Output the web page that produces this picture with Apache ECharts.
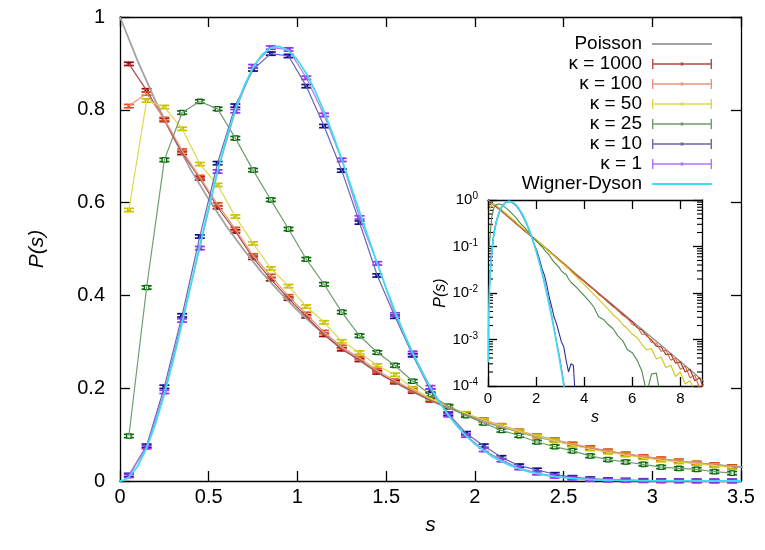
<!DOCTYPE html>
<html>
<head>
<meta charset="utf-8">
<title>Level spacing distribution P(s)</title>
<script src="https://cdn.jsdelivr.net/npm/echarts@6/dist/echarts.min.js"></script>
<style>
  html, body { margin: 0; padding: 0; background: #ffffff; }
  #chart { width: 765px; height: 550px; }
</style>
</head>
<body>
<div id="chart"></div>
<script>
// ---- data ----------------------------------------------------------------
const seriesNames = ['κ = 1000', 'κ = 100', 'κ = 50', 'κ = 25', 'κ = 10', 'κ = 1'];

// histogram bin centres
const binS = [0.05, 0.15, 0.25, 0.35, 0.45, 0.55, 0.65, 0.75, 0.85, 0.95,
              1.05, 1.15, 1.25, 1.35, 1.45, 1.55, 1.65, 1.75, 1.85, 1.95,
              2.05, 2.15, 2.25, 2.35, 2.45, 2.55, 2.65, 2.75, 2.85, 2.95,
              3.05, 3.15, 3.25, 3.35, 3.45];

const k1000 = [0.899, 0.842, 0.778, 0.707, 0.652, 0.590, 0.538, 0.481, 0.435, 0.393,
               0.355, 0.315, 0.284, 0.261, 0.234, 0.213, 0.193, 0.174, 0.159, 0.144,
               0.131, 0.119, 0.107, 0.097, 0.088, 0.079, 0.071, 0.064, 0.058, 0.052,
               0.047, 0.043, 0.038, 0.035, 0.031];
const k100  = [0.808, 0.835, 0.780, 0.712, 0.655, 0.596, 0.543, 0.486, 0.442, 0.398,
               0.360, 0.321, 0.289, 0.265, 0.238, 0.216, 0.196, 0.177, 0.161, 0.145,
               0.132, 0.120, 0.108, 0.098, 0.089, 0.080, 0.072, 0.065, 0.058, 0.053,
               0.048, 0.043, 0.039, 0.035, 0.031];
const k50   = [0.584, 0.820, 0.806, 0.759, 0.683, 0.638, 0.570, 0.512, 0.458, 0.420,
               0.376, 0.342, 0.301, 0.277, 0.249, 0.229, 0.200, 0.178, 0.160, 0.146,
               0.131, 0.119, 0.107, 0.097, 0.087, 0.077, 0.069, 0.062, 0.056, 0.050,
               0.045, 0.041, 0.037, 0.033, 0.029];
const k25   = [0.097, 0.417, 0.692, 0.794, 0.818, 0.802, 0.739, 0.670, 0.606, 0.543,
               0.478, 0.424, 0.364, 0.313, 0.277, 0.249, 0.215, 0.186, 0.161, 0.141,
               0.125, 0.109, 0.098, 0.084, 0.074, 0.065, 0.054, 0.046, 0.041, 0.036,
               0.030, 0.027, 0.025, 0.020, 0.017];
const k10   = [0.013, 0.076, 0.203, 0.357, 0.527, 0.685, 0.809, 0.887, 0.921, 0.916,
               0.851, 0.765, 0.669, 0.557, 0.443, 0.354, 0.271, 0.195, 0.145, 0.103,
               0.076, 0.051, 0.033, 0.024, 0.0145, 0.008, 0.005, 0.003, 0.0022, 0.0014,
               0.0009, 0.0007, 0.00035, 0.0002, 0.0003];
const k1    = [0.011, 0.073, 0.192, 0.346, 0.502, 0.667, 0.797, 0.894, 0.934, 0.930,
               0.869, 0.789, 0.692, 0.568, 0.469, 0.359, 0.276, 0.202, 0.142, 0.098,
               0.067, 0.045, 0.028, 0.017, 0.010, 0.006, 0.0033, 0.0017, 0.0009, 0.0005,
               0.00025, 0.00012, 0.00006, 0.00003, 0.00001];

// one-sigma half heights of the error bars
const errHalf = [0.0035, 0.0035, 0.0035, 0.0035, 0.0035, 0.0035];

// long tails, shown only in the log-scale inset
const tailS = [3.6, 3.8, 4.0, 4.2, 4.4, 4.6, 4.8, 5.0, 5.2, 5.4, 5.6, 5.8, 6.0, 6.2,
               6.4, 6.6, 6.8, 7.0, 7.2, 7.4, 7.6, 7.8, 8.0, 8.2, 8.4, 8.6, 8.8, 9.0];
const k1000Tail = [0.0262, 0.0214, 0.0177, 0.0144, 0.0119, 0.0096, 0.0079, 0.0064, 0.0053, 0.0042,
                   0.0035, 0.0028, 0.0024, 0.0018, 0.0016, 0.0012, 0.00098, 0.00072, 0.00070, 0.00047,
                   0.00049, 0.00031, 0.00033, 0.00020, 0.00023, 0.00013, 0.00015, 0.00008];
const k100Tail  = [0.0266, 0.0211, 0.0179, 0.0141, 0.0120, 0.0093, 0.0080, 0.0062, 0.0051, 0.0043,
                   0.0033, 0.0029, 0.0021, 0.0019, 0.0013, 0.0013, 0.00086, 0.00083, 0.00056, 0.00059,
                   0.00036, 0.00039, 0.00023, 0.00027, 0.00015, 0.00017, 0.00009, 0.00011];
const k50Tail   = [0.0245, 0.0192, 0.0152, 0.0119, 0.0093, 0.0074, 0.0057, 0.0045, 0.0034, 0.0028,
                   0.0021, 0.0017, 0.0013, 0.0011, 0.00078, 0.00060, 0.00064, 0.00038, 0.00042, 0.00025,
                   0.00028, 0.00016, 0.00020, 0.00011, 0.00013, 0.00008, 0.00010, 0.00006];
const k25Tail   = [0.0145, 0.0112, 0.0088, 0.0068, 0.0050, 0.0031, 0.0027, 0.0021, 0.0017, 0.0012,
                   0.00095, 0.00060, 0.00052, 0.00036, 0.00021, 0.00007, 0.00018, 0.00019, 0.00005];
const k10TailS  = [3.55, 3.65];
const k10Tail   = [0.00028, 0.00004];

// Poisson reference curve
const poissonS = [0, 0.1, 0.2, 0.3, 0.4, 0.5, 0.6, 0.7, 0.8, 0.9, 1.0, 1.1, 1.2, 1.3, 1.4, 1.5,
                  1.6, 1.7, 1.8, 1.9, 2.0, 2.1, 2.2, 2.3, 2.4, 2.5, 2.6, 2.7, 2.8, 2.9, 3.0,
                  3.1, 3.2, 3.3, 3.4, 3.5, 4.0, 4.5, 5.0, 5.5, 6.0, 6.5, 7.0, 7.5, 8.0, 8.5, 9.0];
const poissonP = [1, 0.905, 0.819, 0.741, 0.670, 0.607, 0.549, 0.497, 0.449, 0.407, 0.368,
                  0.333, 0.301, 0.273, 0.247, 0.223, 0.202, 0.183, 0.165, 0.150, 0.135,
                  0.122, 0.111, 0.100, 0.0907, 0.0821, 0.0743, 0.0672, 0.0608, 0.0550, 0.0498,
                  0.0450, 0.0408, 0.0369, 0.0334, 0.0302, 0.0183, 0.0111, 0.00674, 0.00409,
                  0.00248, 0.00150, 0.000912, 0.000553, 0.000335, 0.000203, 0.000123];

// Wigner-Dyson reference curve
const wdS = [0, 0.01, 0.02, 0.03, 0.05, 0.1, 0.15, 0.2, 0.25, 0.3, 0.35, 0.4, 0.45, 0.5,
             0.55, 0.6, 0.65, 0.7, 0.75, 0.8, 0.85, 0.9, 0.95, 1.0, 1.05, 1.1, 1.15, 1.2,
             1.25, 1.3, 1.35, 1.4, 1.45, 1.5, 1.55, 1.6, 1.65, 1.7, 1.75, 1.8, 1.85, 1.9,
             1.95, 2.0, 2.1, 2.2, 2.3, 2.4, 2.5, 2.6, 2.7, 2.8, 2.9, 3.0, 3.1, 3.2, 3.3, 3.4, 3.5];
const wdP = [0, 0.000324, 0.0013, 0.00291, 0.00808, 0.0320, 0.0709, 0.1233, 0.1871, 0.2602,
             0.3398, 0.4232, 0.5074, 0.5896, 0.6673, 0.7381, 0.8000, 0.8514, 0.8911, 0.9187,
             0.9337, 0.9364, 0.9274, 0.9076, 0.8782, 0.8405, 0.7961, 0.7465, 0.6929, 0.6372,
             0.5806, 0.5241, 0.4688, 0.4158, 0.3657, 0.3189, 0.2757, 0.2364, 0.2011, 0.1697,
             0.1422, 0.1181, 0.0974, 0.0796, 0.0521, 0.0331, 0.0204, 0.0122, 0.00709, 0.00401,
             0.00220, 0.00118, 0.00061, 0.000308, 0.000151, 0.0000723, 0.0000336, 0.000015, 0.0000067];

// tick positions
const insetXTicks = [0, 2, 4, 6, 8];
const insetYDecades = [1e-4, 1e-3, 1e-2, 1e-1, 1];

// ---- styling -------------------------------------------------------------
const FONT = '"Liberation Sans", Arial, Helvetica, sans-serif';
const poissonColor = '#a2a2a2';
const wdColor = '#3fdcef';
const lineColors   = ['#b24a44', '#e99480', '#dcd84a', '#6e9e6e', '#6666b6', '#b474f2'];
const markColors   = ['#9a0c0c', '#e0521e', '#c8c000', '#0a6a0a', '#10108e', '#9632f4'];
const insetColors  = ['#a2301e', '#d8643e', '#d2c61c', '#4c8a4c', '#2e2e9e', '#9242e2'];
const markerKinds  = ['plus', 'cross', 'rect', 'emptyRect', 'rect', 'star'];
const INSET_XMAX = 8.9;

const kappaData  = [k1000, k100, k50, k25, k10, k1];
const kappaTails = [
  [tailS, k1000Tail], [tailS, k100Tail], [tailS, k50Tail],
  [tailS.slice(0, k25Tail.length), k25Tail], [k10TailS, k10Tail], [[], []]
];

const pairs = (xs, ys) => xs.map((x, i) => [x, ys[i]]);

// small point symbols drawn on top of each error bar
function markerEls(kind, x, y, color) {
  const r = 2.3;
  const ls = { stroke: color, lineWidth: 1.3 };
  const plus = [
    { type: 'line', shape: { x1: x - r, y1: y, x2: x + r, y2: y }, style: ls },
    { type: 'line', shape: { x1: x, y1: y - r, x2: x, y2: y + r }, style: ls }
  ];
  const cross = [
    { type: 'line', shape: { x1: x - r, y1: y - r, x2: x + r, y2: y + r }, style: ls },
    { type: 'line', shape: { x1: x - r, y1: y + r, x2: x + r, y2: y - r }, style: ls }
  ];
  switch (kind) {
    case 'plus': return plus;
    case 'cross': return cross;
    case 'star': return plus.concat(cross);
    case 'rect':
      return [{ type: 'rect', shape: { x: x - 2, y: y - 2, width: 4, height: 4 }, style: { fill: color } }];
    case 'emptyRect':
      return [{ type: 'rect', shape: { x: x - 2.2, y: y - 2.2, width: 4.4, height: 4.4 },
                style: { fill: '#ffffff', stroke: color, lineWidth: 1.3 } }];
  }
  return [];
}

function errorBarRenderer(k) {
  return function (params, api) {
    const s = api.value(0), p = api.value(1);
    const c = api.coord([s, p]);
    const hi = api.coord([s, p + errHalf[k]]);
    const lo = api.coord([s, p - errHalf[k]]);
    const w = 5;
    const st = { stroke: markColors[k], lineWidth: 1.7 };
    return {
      type: 'group',
      children: [
        { type: 'line', shape: { x1: c[0], y1: hi[1], x2: c[0], y2: lo[1] }, style: st },
        { type: 'line', shape: { x1: c[0] - w, y1: hi[1], x2: c[0] + w, y2: hi[1] }, style: st },
        { type: 'line', shape: { x1: c[0] - w, y1: lo[1], x2: c[0] + w, y2: lo[1] }, style: st }
      ].concat(markerEls(markerKinds[k], c[0], c[1], markColors[k]))
    };
  };
}

// log minor ticks (2..9 x each decade) on both sides of the inset
const insetMinor = [];
insetYDecades.slice(0, 4).forEach(d => { for (let m = 2; m <= 9; m++) insetMinor.push(d * m); });

function minorTickRenderer(params, api) {
  const v = api.value(1);
  const l = api.coord([0, v]);
  const r = api.coord([INSET_XMAX, v]);
  const st = { stroke: '#000', lineWidth: 1.1 };
  return {
    type: 'group',
    children: [
      { type: 'line', shape: { x1: l[0], y1: l[1], x2: l[0] + 5, y2: l[1] }, style: st },
      { type: 'line', shape: { x1: r[0], y1: r[1], x2: r[0] - 5, y2: r[1] }, style: st }
    ]
  };
}

// ---- axes ----------------------------------------------------------------
const axisLine = { show: true, onZero: false, lineStyle: { color: '#000', width: 1.3 } };
const tickStyle = { color: '#000', width: 1.3 };
const labelBase = { color: '#000', fontFamily: FONT };

const xAxes = [
  { gridIndex: 0, type: 'value', position: 'bottom', min: 0, max: 3.5, interval: 0.5,
    axisLine, splitLine: { show: false },
    axisTick: { inside: true, length: 10, lineStyle: tickStyle },
    axisLabel: Object.assign({ fontSize: 20, margin: 6 }, labelBase),
    name: 's', nameLocation: 'middle', nameGap: 34,
    nameTextStyle: { fontSize: 21, fontStyle: 'italic', color: '#000', fontFamily: FONT } },
  { gridIndex: 0, type: 'value', position: 'top', min: 0, max: 3.5, interval: 0.5,
    axisLine, splitLine: { show: false },
    axisTick: { inside: true, length: 10, lineStyle: tickStyle },
    axisLabel: { show: false } },
  { gridIndex: 1, type: 'value', position: 'bottom', min: 0, max: INSET_XMAX,
    axisLine, splitLine: { show: false },
    axisTick: { inside: true, length: 9, lineStyle: tickStyle, customValues: insetXTicks },
    axisLabel: Object.assign({ fontSize: 15, margin: 5, customValues: insetXTicks }, labelBase),
    name: 's', nameLocation: 'middle', nameGap: 24,
    nameTextStyle: { fontSize: 16, fontStyle: 'italic', color: '#000', fontFamily: FONT } },
  { gridIndex: 1, type: 'value', position: 'top', min: 0, max: INSET_XMAX,
    axisLine, splitLine: { show: false },
    axisTick: { inside: true, length: 9, lineStyle: tickStyle, customValues: insetXTicks },
    axisLabel: { show: false } }
];

const yAxes = [
  { gridIndex: 0, type: 'value', position: 'left', min: 0, max: 1, interval: 0.2,
    axisLine, splitLine: { show: false },
    axisTick: { inside: true, length: 10, lineStyle: tickStyle },
    axisLabel: Object.assign({ fontSize: 20, margin: 15 }, labelBase),
    name: 'P(s)', nameLocation: 'middle', nameRotate: 90, nameGap: 72,
    nameTextStyle: { fontSize: 21, fontStyle: 'italic', color: '#000', fontFamily: FONT } },
  { gridIndex: 0, type: 'value', position: 'right', min: 0, max: 1, interval: 0.2,
    axisLine, splitLine: { show: false },
    axisTick: { inside: true, length: 10, lineStyle: tickStyle },
    axisLabel: { show: false } },
  { gridIndex: 1, type: 'log', logBase: 10, position: 'left', min: 1e-4, max: 1,
    axisLine, splitLine: { show: false },
    axisTick: { inside: true, length: 9, lineStyle: tickStyle },
    axisLabel: Object.assign({
      fontSize: 15, margin: 10,
      formatter: v => '10{sup|' + Math.round(Math.log10(v)) + '}',
      rich: { sup: { fontSize: 10, verticalAlign: 'top', padding: [0, 0, 7, 0],
                     color: '#000', fontFamily: FONT } }
    }, labelBase),
    name: 'P(s)', nameLocation: 'middle', nameRotate: 90, nameGap: 36,
    nameTextStyle: { fontSize: 16, fontStyle: 'italic', color: '#000', fontFamily: FONT } },
  { gridIndex: 1, type: 'log', logBase: 10, position: 'right', min: 1e-4, max: 1,
    axisLine, splitLine: { show: false },
    axisTick: { inside: true, length: 9, lineStyle: tickStyle },
    axisLabel: { show: false } }
];

// ---- series --------------------------------------------------------------
const series = [];

series.push({ type: 'line', name: 'Poisson', xAxisIndex: 0, yAxisIndex: 0,
  data: pairs(poissonS, poissonP), symbol: 'none', color: poissonColor,
  lineStyle: { width: 1.8, color: poissonColor }, silent: true });

kappaData.forEach((vals, k) => {
  series.push({ type: 'line', name: seriesNames[k], xAxisIndex: 0, yAxisIndex: 0,
    data: pairs(binS, vals), symbol: 'none', color: lineColors[k],
    lineStyle: { width: 1.2, color: lineColors[k] }, silent: true });
  series.push({ type: 'custom', name: seriesNames[k], xAxisIndex: 0, yAxisIndex: 0,
    data: pairs(binS, vals), encode: { x: 0, y: 1 }, color: markColors[k],
    renderItem: errorBarRenderer(k), silent: true });
});

series.push({ type: 'line', name: 'Wigner-Dyson', xAxisIndex: 0, yAxisIndex: 0,
  data: pairs(wdS, wdP), symbol: 'none', color: wdColor,
  lineStyle: { width: 1.8, color: wdColor }, silent: true });

// inset (log scale)
series.push({ type: 'line', name: 'Poisson', xAxisIndex: 2, yAxisIndex: 2,
  data: pairs(poissonS, poissonP), symbol: 'none', color: poissonColor,
  lineStyle: { width: 1.3, color: '#8c8c8c' }, silent: true });

kappaData.forEach((vals, k) => {
  const xs = binS.concat(kappaTails[k][0]);
  const ys = vals.concat(kappaTails[k][1]);
  series.push({ type: 'line', name: seriesNames[k], xAxisIndex: 2, yAxisIndex: 2,
    data: pairs(xs, ys), symbol: 'none', color: insetColors[k],
    lineStyle: { width: 1.1, color: insetColors[k] }, silent: true });
});

series.push({ type: 'line', name: 'Wigner-Dyson', xAxisIndex: 2, yAxisIndex: 2,
  data: pairs(wdS, wdP).filter(d => d[1] > 0), symbol: 'none', color: wdColor,
  lineStyle: { width: 1.7, color: wdColor }, silent: true });

series.push({ type: 'custom', xAxisIndex: 2, yAxisIndex: 2,
  data: insetMinor.map(v => [0, v]), encode: { x: 0, y: 1 },
  renderItem: minorTickRenderer, silent: true });

// ---- legend --------------------------------------------------------------
const errIcon = 'path://M0,0h1.4v10h-1.4zM58.6,0h1.4v10h-1.4zM0,4.35h60v1.3h-60zM28.6,3.6h2.8v2.8h-2.8z';
const lineIcon = 'path://M0,0L0.01,0L0,0.01ZM60,10L59.99,10L60,9.99ZM0,3.9h60v2.2h-60z';
const legendData = [{ name: 'Poisson', icon: lineIcon, itemStyle: { color: poissonColor, borderWidth: 0 } }]
  .concat(seriesNames.map((n, k) => ({ name: n, icon: errIcon,
    itemStyle: { color: lineColors[k], borderWidth: 0 } })))
  .concat([{ name: 'Wigner-Dyson', icon: lineIcon, itemStyle: { color: wdColor, borderWidth: 0 } }]);

const chart = echarts.init(document.getElementById('chart'), null, { renderer: 'canvas' });
chart.setOption({
  animation: false,
  backgroundColor: '#ffffff',
  grid: [
    { left: 120, top: 17, width: 621, height: 464 },
    { left: 488, top: 200, width: 214, height: 186 }
  ],
  xAxis: xAxes,
  yAxis: yAxes,
  legend: {
    orient: 'vertical', right: 48, top: 29, align: 'right',
    itemWidth: 60, itemHeight: 10, itemGap: 0, selectedMode: false,
    textStyle: { fontSize: 19, fontFamily: FONT, color: '#000', lineHeight: 20, padding: [0, 5, 0, 0] },
    data: legendData
  },
  series: series
});
</script>
</body>
</html>
